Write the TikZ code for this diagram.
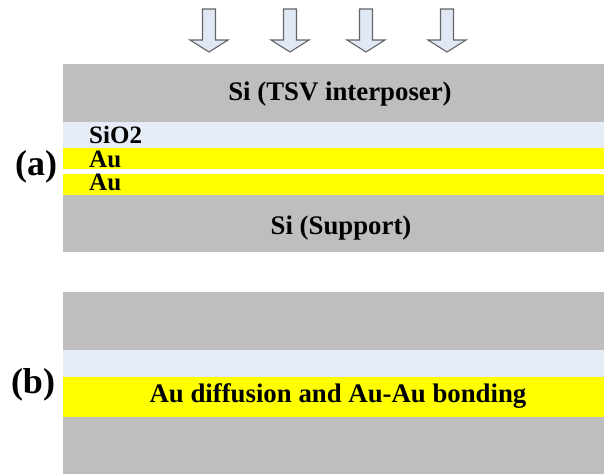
\documentclass[tikz,border=0pt]{standalone}
\usepackage{fontspec}
\setmainfont{Liberation Serif}
\definecolor{sigray}{RGB}{190,190,190}
\definecolor{oxide}{RGB}{230,236,246}
\definecolor{gold}{RGB}{255,255,0}
\definecolor{arrowfill}{RGB}{224,232,245}
\definecolor{arrowline}{RGB}{100,100,100}
\begin{document}
\begin{tikzpicture}[x=1pt,y=-1pt,
  layer/.style={fill=#1,draw=none},
  lbl/.style={font=\bfseries\fontsize{26.8}{27}\selectfont,inner sep=0pt},
  small/.style={font=\bfseries\fontsize{25}{25}\selectfont,inner sep=0pt,anchor=west},
  tag/.style={font=\bfseries\fontsize{36}{36}\selectfont,inner sep=0pt},
  press/.style={fill=arrowfill,draw=arrowline,line width=1.1pt,line join=miter}]
\useasboundingbox (0,0) rectangle (604,474);
% (a)
\fill[layer=sigray] (63,64) rectangle (604,122);
\fill[layer=oxide] (63,122) rectangle (604,148);
\fill[layer=gold] (63,148) rectangle (604,169);
\fill[layer=gold] (63,174) rectangle (604,195);
\fill[layer=sigray] (63,195) rectangle (604,252);
% (b)
\fill[layer=sigray] (63,292) rectangle (604,350);
\fill[layer=oxide] (63,350) rectangle (604,377);
\fill[layer=gold] (63,377) rectangle (604,417);
\fill[layer=sigray] (63,417) rectangle (604,474);
% arrows
\foreach \cx in {209,290,366,447}{
  \draw[press] (\cx-6.5,9) -- (\cx+6.5,9) -- (\cx+6.5,40) -- (\cx+19,40) -- (\cx,52)
     -- (\cx-19,40) -- (\cx-6.5,40) -- cycle;
}
% texts
\node[lbl] (tsv) at (340,94) {Si (TSV interposer)};
\node[small] (sio2) at (89,135) {SiO2};
\node[small] (au1) at (89,159) {Au};
\node[small] (au2) at (89,182) {Au};
\node[lbl] (sup) at (341,228) {Si (Support)};
\node[tag] (a) at (36,167) {(a)};
\node[tag] (b) at (33,385) {(b)};
\node[lbl] (bond) at (338,396) {Au diffusion and Au-Au bonding};
\end{tikzpicture}
\end{document}
